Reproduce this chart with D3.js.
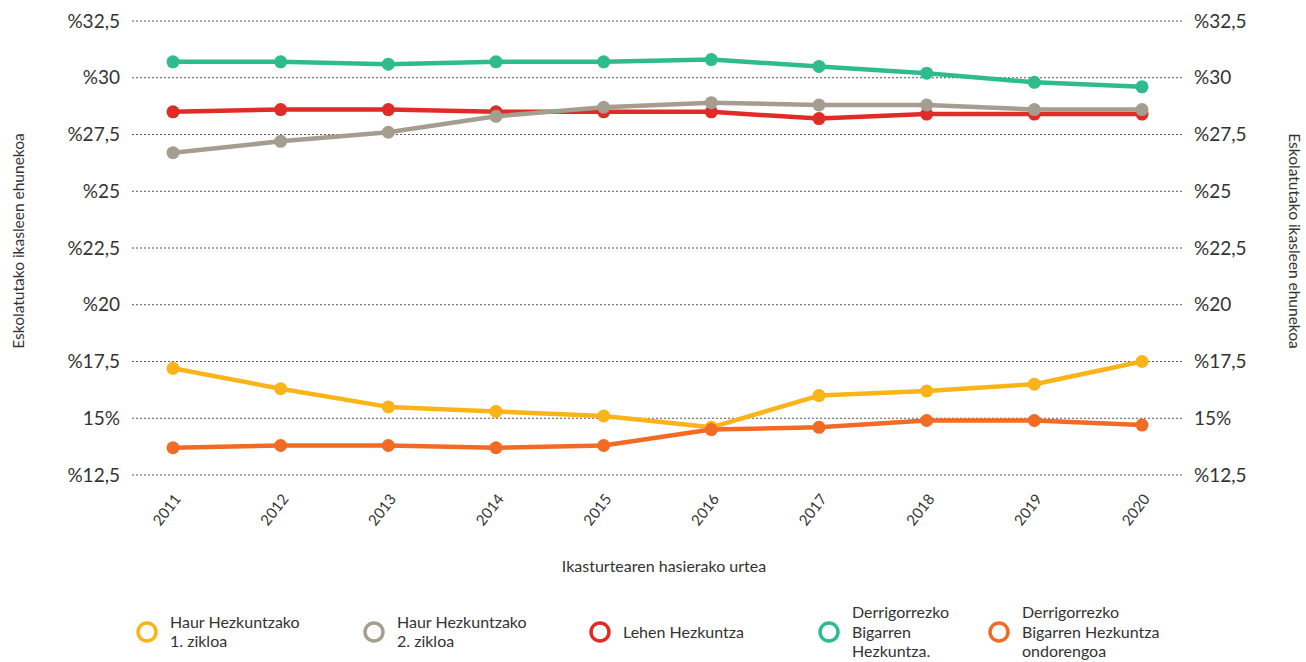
<!DOCTYPE html>
<html>
<head>
<meta charset="utf-8">
<script src="https://cdn.jsdelivr.net/npm/d3@7"></script>
<style>
  body { margin: 0; background: #fff; }
  svg { font-family: Lato, "Open Sans", sans-serif; }
</style>
</head>
<body>
<svg id="chart" width="1306" height="662"></svg>
<script>
const years = [2011, 2012, 2013, 2014, 2015, 2016, 2017, 2018, 2019, 2020];

const haur1 = [17.2, 16.3, 15.5, 15.3, 15.1, 14.6, 16.0, 16.2, 16.5, 17.5];
const haur2 = [26.7, 27.2, 27.6, 28.3, 28.7, 28.9, 28.8, 28.8, 28.6, 28.6];
const lehen = [28.5, 28.6, 28.6, 28.5, 28.5, 28.5, 28.2, 28.4, 28.4, 28.4];
const dbh = [30.7, 30.7, 30.6, 30.7, 30.7, 30.8, 30.5, 30.2, 29.8, 29.6];
const dbhOndo = [13.7, 13.8, 13.8, 13.7, 13.8, 14.5, 14.6, 14.9, 14.9, 14.7];

const tickValues = [32.5, 30, 27.5, 25, 22.5, 20, 17.5, 15, 12.5];
const tickLabels = ["%32,5", "%30", "%27,5", "%25", "%22,5", "%20", "%17,5", "15%", "%12,5"];

const seriesNames = [
  ["Haur Hezkuntzako", "1. zikloa"],
  ["Haur Hezkuntzako", "2. zikloa"],
  ["Lehen Hezkuntza"],
  ["Derrigorrezko", "Bigarren", "Hezkuntza."],
  ["Derrigorrezko", "Bigarren Hezkuntza", "ondorengoa"]
];
const seriesValues = [haur1, haur2, lehen, dbh, dbhOndo];
const colors = ["#fbb418", "#a59d90", "#e02b27", "#2ebc8c", "#f26b25"];

const svg = d3.select("#chart");
const textColor = "#333";

const x = d3.scalePoint().domain(years).range([173, 1142]);
const y = d3.scaleLinear().domain([12.5, 32.5]).range([475, 21]);

// grid
const grid = svg.append("g");
grid.selectAll("line")
  .data(tickValues)
  .join("line")
  .attr("x1", 132)
  .attr("x2", 1182)
  .attr("y1", (d) => y(d))
  .attr("y2", (d) => y(d))
  .attr("stroke", "#555")
  .attr("stroke-width", 1)
  .attr("stroke-dasharray", "2,2");

// y axes, left and right
const labelOf = (d) => tickLabels[tickValues.indexOf(d)];
const leftAxis = d3.axisLeft(y).tickValues(tickValues).tickFormat(labelOf).tickSize(0).tickPadding(0);
const rightAxis = d3.axisRight(y).tickValues(tickValues).tickFormat(labelOf).tickSize(0).tickPadding(0);

const gl = svg.append("g").attr("transform", "translate(120,0)").call(leftAxis);
const gr = svg.append("g").attr("transform", "translate(1194,0)").call(rightAxis);
[gl, gr].forEach((g) => {
  g.select(".domain").remove();
  g.selectAll("text")
    .attr("font-size", 19)
    .attr("font-family", "Lato, sans-serif")
    .attr("fill", textColor);
});

// x axis labels
const gx = svg.append("g").attr("transform", "translate(0,496)")
  .call(d3.axisBottom(x).tickSize(0).tickPadding(0));
gx.select(".domain").remove();
gx.selectAll("text")
  .attr("font-size", 15)
  .attr("font-family", "Lato, sans-serif")
  .attr("fill", textColor)
  .attr("text-anchor", "end")
  .attr("dy", "0.35em")
  .attr("transform", "translate(4,0) rotate(-52)");

// axis titles
const titleSize = 15.5;
svg.append("text")
  .attr("transform", "translate(24,241) rotate(-90)")
  .attr("text-anchor", "middle")
  .attr("font-size", titleSize)
  .attr("fill", textColor)
  .text("Eskolatutako ikasleen ehunekoa");

svg.append("text")
  .attr("transform", "translate(1289,241) rotate(90)")
  .attr("text-anchor", "middle")
  .attr("font-size", titleSize)
  .attr("fill", textColor)
  .text("Eskolatutako ikasleen ehunekoa");

svg.append("text")
  .attr("x", 664)
  .attr("y", 572)
  .attr("text-anchor", "middle")
  .attr("font-size", 16)
  .attr("fill", textColor)
  .text("Ikasturtearen hasierako urtea");

// lines
const line = d3.line()
  .x((d, i) => x(years[i]))
  .y((d) => y(d));

const order = [3, 2, 1, 0, 4];
order.forEach((k) => {
  const g = svg.append("g");
  g.append("path")
    .datum(seriesValues[k])
    .attr("d", line)
    .attr("fill", "none")
    .attr("stroke", colors[k])
    .attr("stroke-width", 4.5)
    .attr("stroke-linejoin", "round");
  g.selectAll("circle")
    .data(seriesValues[k])
    .join("circle")
    .attr("cx", (d, i) => x(years[i]))
    .attr("cy", (d) => y(d))
    .attr("r", 6.5)
    .attr("fill", colors[k]);
});

// legend
const legendX = [147, 374, 600, 829, 999];
const legend = svg.append("g");
seriesNames.forEach((lines, k) => {
  const g = legend.append("g").attr("transform", `translate(${legendX[k]},632)`);
  g.append("circle")
    .attr("r", 9)
    .attr("fill", "none")
    .attr("stroke", colors[k])
    .attr("stroke-width", 3.5);
  const lh = 19.5;
  const t = g.append("text")
    .attr("x", 23)
    .attr("font-size", 16)
    .attr("fill", textColor);
  lines.forEach((s, j) => {
    t.append("tspan")
      .attr("x", 23)
      .attr("y", (j - (lines.length - 1) / 2) * lh)
      .attr("dy", "0.35em")
      .text(s);
  });
});
</script>
</body>
</html>
